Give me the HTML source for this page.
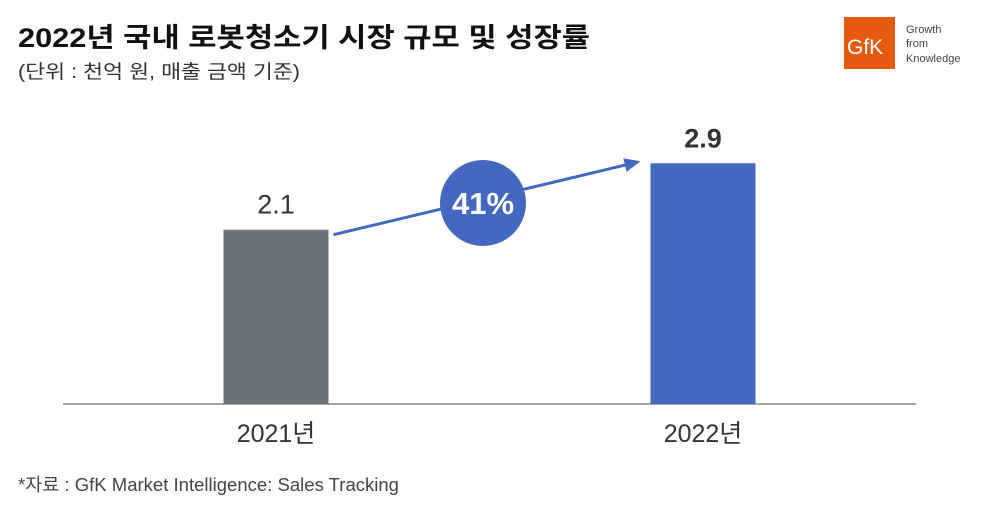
<!DOCTYPE html>
<html><head><meta charset="utf-8"><style>
body{margin:0;background:#fff;width:984px;height:507px;overflow:hidden;font-family:"Liberation Sans","Noto Sans CJK KR",sans-serif;}
</style></head><body>
<svg width="984" height="507" xmlns="http://www.w3.org/2000/svg" style="font-family:'Liberation Sans','Noto Sans CJK KR',sans-serif">
<text x="18" y="47" font-size="27" font-weight="bold" fill="#111" textLength="572" lengthAdjust="spacingAndGlyphs">2022년 국내 로봇청소기 시장 규모 및 성장률</text>
<text x="18" y="78" font-size="19" fill="#333" textLength="282" lengthAdjust="spacingAndGlyphs">(단위 : 천억 원, 매출 금액 기준)</text>
<g>
<rect x="844" y="17" width="51" height="52" fill="#e55a0f"/>
<text x="847" y="54" font-size="21" fill="#fff">GfK</text>
<text x="906" y="33" font-size="11" fill="#444">Growth</text>
<text x="906" y="47" font-size="11" fill="#444">from</text>
<text x="906" y="62" font-size="11" fill="#444">Knowledge</text>
</g>
<g id="plot"></g>
<text x="18" y="491" font-size="18" fill="#444" textLength="381" lengthAdjust="spacingAndGlyphs">*자료 : GfK Market Intelligence: Sales Tracking</text>
</svg>
<script>
const categories=["2021년","2022년"];
const values=[2.1,2.9];
const growth=["41%"];
const colors=["#6b747a","#4468bf"];
const centers=[276,703],bw=105,base=404,unit=83;
const y=v=>base-v*unit;
const g=document.getElementById('plot');
const NS="http://www.w3.org/2000/svg";
function mk(t,a){const e=document.createElementNS(NS,t);for(const k in a)e.setAttribute(k,a[k]);g.appendChild(e);return e;}
const ax=mk('line',{x1:63,x2:916,y1:base,y2:base,stroke:'#888','stroke-width':1.5});


values.forEach((v,i)=>{
 const r=mk('rect',{x:centers[i]-bw/2,y:y(v),width:bw,height:base-y(v),fill:colors[i]});
 
 
 const t=mk('text',{x:centers[i],y:y(v)-16,'text-anchor':'middle','font-size':27,fill:'#333','font-weight':i==1?'bold':'normal'});
 t.textContent=v.toFixed(1);
 
 
 const c=mk('text',{x:centers[i],y:442,'text-anchor':'middle','font-size':25,fill:'#333'});
 c.textContent=categories[i];
 
 
});
const x1=centers[0]+bw/2+5,y1=y(values[0])+5,x2=centers[1]-bw/2-10,y2=y(values[1])-2;
const ln=mk('line',{x1:x1,y1:y1,x2:x2-8,y2:y2+2,stroke:'#4468bf','stroke-width':3});


const ang=Math.atan2(y2-y1,x2-x1);
const p=(d,o)=>[x2-d*Math.cos(ang)+o*Math.sin(ang),y2-d*Math.sin(ang)-o*Math.cos(ang)];
const a=p(16,7),b=p(16,-7);
const hd=mk('polygon',{points:`${x2},${y2} ${a} ${b}`,fill:'#4468bf'});


const ci=mk('circle',{cx:483,cy:203,r:43,fill:'#4468bf'});


const gt=mk('text',{x:483,y:214,'text-anchor':'middle','font-size':31,'font-weight':'bold',fill:'#fff'});
gt.textContent=growth[0];


</script>
</body></html>
